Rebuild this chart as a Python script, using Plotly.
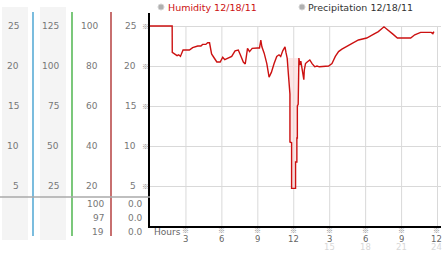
import plotly.graph_objects as go

# ---------------- data ----------------
hours = [0, 1.85, 1.86, 2.05, 2.26, 2.40, 2.54, 2.76, 3.29, 3.56, 3.84, 3.98, 4.25, 4.39,
         4.66, 4.81, 4.97, 5.14, 5.36, 5.58, 5.86, 6.07, 6.24, 6.49, 6.82, 7.10, 7.37,
         7.54, 7.79, 7.95, 8.14, 8.31, 8.53, 8.97, 9.14, 9.25, 9.34, 9.53, 9.75, 9.94,
         10.13, 10.36, 10.58, 10.77, 10.91, 11.08, 11.27, 11.35,
         11.45, 11.55, 11.62, 11.68, 11.68, 11.82, 11.82, 12.15, 12.15, 12.26, 12.26,
         12.30, 12.30, 12.37, 12.43,
         12.51, 12.59, 12.70, 12.78, 12.84, 12.88, 12.98, 13.12, 13.34, 13.53, 13.75,
         13.94, 14.14, 14.91, 15.19, 15.47, 15.74, 16.02, 16.43, 16.84, 17.40, 18.09,
         18.64, 19.06, 19.53, 19.88, 20.30, 20.65, 21.76, 22.10, 22.59, 23.47, 23.61, 23.70]
humidity = [25, 25, 21.7, 21.5, 21.3, 21.4, 21.2, 22.0, 22.0, 22.3, 22.4, 22.5, 22.5, 22.7,
            22.7, 22.9, 22.9, 21.5, 21.0, 20.5, 20.5, 21.1, 20.8, 21.0, 21.2, 21.9, 22.0,
            21.4, 20.5, 20.25, 22.2, 21.8, 22.2, 22.25, 22.25, 23.25, 22.4, 21.6, 20.3, 18.6,
            19.2, 20.3, 21.2, 21.4, 21.2, 21.9, 22.4, 21.7,
            21.0, 19.0, 17.5, 16.5, 10.5, 10.4, 4.7, 4.7, 8.0, 8.0, 11.0,
            11.0, 15.0, 15.2, 21.0,
            20.1, 20.6, 19.7, 19.1, 18.3, 19.5, 20.3, 20.5, 20.75, 20.3, 19.9,
            20.0, 19.9, 20.0, 20.3, 21.2, 21.8, 22.1, 22.4, 22.8, 23.25, 23.5,
            23.95, 24.3, 24.9, 24.5, 23.95, 23.5, 23.5, 23.9, 24.2, 24.2, 24.05, 24.3]

row_values = [25, 20, 15, 10, 5]
col1_labels = ["25", "20", "15", "10", "5"]
col2_labels = ["125", "100", "75", "50", "25"]
col3_labels = ["100", "80", "60", "40", "20"]
col4_labels = ["25", "20", "15", "10", "5"]
col3_extra = ["100", "97", "19"]
col4_extra = ["0.0", "0.0", "0.0"]

tick_hours = [3, 6, 9, 12, 15, 18, 21, 24]
tick_labels = ["3", "6", "9", "12", "3", "6", "9", "12"]
tick_sub = ["", "", "", "", "15", "18", "21", "24"]

legend_names = ["Humidity 12/18/11", "Precipitation 12/18/11"]

# ---------------- layout helpers ----------------
W, H = 442, 253
L, R, T, B = 150, 1, 13, 27
PW, PH = W - L - R, H - T - B
X_MAX = PW / 11.98


def px(x):
    return (x - L) / PW


def py(y):
    return (H - B - y) / PH


FONT = "DejaVu Sans"
fig = go.Figure()

# spike band fill (subset of the series)
sp = [(h, v) for h, v in zip(hours, humidity) if 11.4 <= h <= 12.45]
fig.add_trace(go.Scatter(x=[p[0] for p in sp], y=[p[1] for p in sp], mode="lines",
                         fill="toself", fillcolor="rgba(250,215,215,0.6)",
                         line=dict(width=0), hoverinfo="skip", showlegend=False))
fig.add_trace(go.Scatter(x=hours, y=humidity, mode="lines",
                         line=dict(color="#cc1111", width=1.4), showlegend=False))

shapes = []
# left panel backgrounds
for x0, x1 in [(2, 28), (40, 66)]:
    shapes.append(dict(type="rect", xref="paper", yref="paper", x0=px(x0), x1=px(x1),
                       y0=py(240), y1=py(7), fillcolor="#f4f4f4", line=dict(width=0),
                       layer="below"))
# left separator lines
for x, c in [(33, "#3399cc"), (72, "#33aa33"), (111, "#aa2222")]:
    shapes.append(dict(type="line", xref="paper", yref="paper", x0=px(x), x1=px(x),
                       y0=py(236), y1=py(12), line=dict(color=c, width=1.3)))
# horizontal gray separator
shapes.append(dict(type="line", xref="paper", yref="paper", x0=px(0), x1=px(150),
                   y0=py(197), y1=py(197), line=dict(color="#aaaaaa", width=1.6)))
# vertical gridlines up to 25
for h in tick_hours:
    shapes.append(dict(type="line", xref="x", yref="y", x0=h, x1=h, y0=0, y1=25,
                       line=dict(color="#d9d9d9", width=1), layer="below"))
# legend circles
for cx in [161, 302]:
    shapes.append(dict(type="circle", xref="paper", yref="paper",
                       x0=px(cx - 3), x1=px(cx + 3), y0=py(10), y1=py(4),
                       fillcolor="#b0b0b0", line=dict(color="#d4d4d4", width=1)))

ann = []
gray = "#777777"
mark_font = dict(family="Noto Sans CJK JP", size=7, color="#8a8a8a")
for v, a, b, c, d in zip(row_values, col1_labels, col2_labels, col3_labels, col4_labels):
    for txt, xr in [(a, 21), (b, 61), (c, 100), (d, 138)]:
        ann.append(dict(text=txt, xref="paper", yref="y", x=px(xr), y=v, xanchor="right",
                        yanchor="middle", showarrow=False, font=dict(family=FONT, size=9, color=gray)))
    ann.append(dict(text="※", xref="paper", yref="y", x=px(145.5), y=v, xanchor="center",
                    yanchor="middle", showarrow=False, font=mark_font, height=6, borderpad=0))
for yy, c, d in zip([204, 218, 232], col3_extra, col4_extra):
    for txt, xr in [(c, 106), (d, 145)]:
        ann.append(dict(text=txt, xref="paper", yref="paper", x=px(xr), y=py(yy), xanchor="right",
                        yanchor="middle", showarrow=False, font=dict(family=FONT, size=9, color=gray)))

for i, (h, lab, sub) in enumerate(zip(tick_hours, tick_labels, tick_sub)):
    shift = -1.5 if i == len(tick_hours) - 1 else 0
    ann.append(dict(text="※", xref="x", yref="paper", x=h, y=py(230), xanchor="center",
                    yanchor="middle", showarrow=False, font=mark_font, height=6, borderpad=0,
                    xshift=shift))
    ann.append(dict(text=lab, xref="x", yref="paper", x=h, y=py(238.5), xanchor="center",
                    yanchor="middle", showarrow=False, font=dict(family=FONT, size=8.5, color="#666666"),
                    height=9, borderpad=0, xshift=shift))
    if sub:
        ann.append(dict(text=sub, xref="x", yref="paper", x=h, y=py(246.5), xanchor="center",
                        yanchor="middle", showarrow=False, font=dict(family=FONT, size=8.5, color="#d8d8d8"),
                        height=10, borderpad=0, xshift=shift))
ann.append(dict(text="Hours", xref="paper", yref="paper", x=px(152), y=py(232), xanchor="left",
                yanchor="middle", showarrow=False, font=dict(family=FONT, size=9, color="#666666")))

for name, lx, col in zip(legend_names, [166, 306], ["#cc1111", "#333333"]):
    ann.append(dict(text=name, xref="paper", yref="paper", x=px(lx), y=py(7), xanchor="left",
                    yanchor="middle", showarrow=False, font=dict(family=FONT, size=9.5, color=col)))

fig.update_layout(
    width=W, height=H, margin=dict(l=L, r=R, t=T, b=B),
    paper_bgcolor="white", plot_bgcolor="white",
    shapes=shapes, annotations=ann, showlegend=False,
    xaxis=dict(range=[0, X_MAX], showgrid=False, zeroline=False, showline=True,
               linecolor="black", linewidth=2, showticklabels=False, ticks=""),
    yaxis=dict(range=[0, 26.625], tickvals=row_values, showgrid=True, gridcolor="#d9d9d9",
               gridwidth=1, zeroline=False, showline=True, linecolor="black", linewidth=2,
               showticklabels=False, ticks=""),
)
fig.write_html("out.html")
